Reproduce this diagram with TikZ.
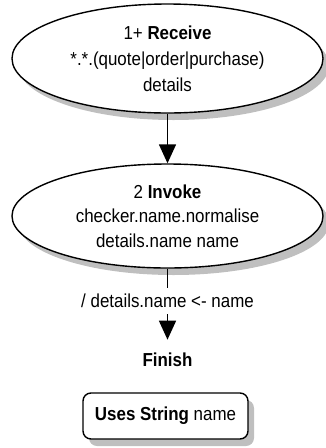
\documentclass[tikz,border=0pt]{standalone}
\usepackage{fontspec}
\setmainfont[FakeStretch=0.9]{Liberation Sans}
\usetikzlibrary{shapes.geometric,shadows,arrows.meta}

\tikzset{
  x=1pt, y=1pt,
  flowline/.style={line width=1.5pt, -{Triangle[length=19pt,width=17pt]}},
  softshadow/.style={drop shadow={shadow xshift=6pt, shadow yshift=-7pt,
      fill=black!25, opacity=1}},
  statenode/.style={ellipse, draw, line width=1.4pt, fill=white, softshadow,
      inner sep=0pt, minimum width=311pt, align=center},
  labeltext/.style={fill=white, inner xsep=2pt, inner ysep=6pt,
      font=\fontsize{18.8}{22}\selectfont},
  usesbox/.style={draw, line width=1.4pt, rounded corners=8pt, fill=white,
      softshadow, minimum width=165pt, minimum height=46pt, inner sep=0pt,
      font=\fontsize{18.8}{22}\selectfont},
}

\begin{document}
\begin{tikzpicture}
  \useasboundingbox (0,0) rectangle (326,-448);

  % receiving state
  \node[statenode, minimum height=109pt,
        font=\fontsize{18.8}{26}\selectfont] (recv) at (167.5,-58.5)
    {1+ \textbf{Receive}\\*.*.(quote|order|purchase)\\details};

  % invoking state
  \node[statenode, minimum height=104pt,
        font=\fontsize{18.8}{24.5}\selectfont] (invk) at (167.5,-216)
    {2 \textbf{Invoke}\\checker.name.normalise\\details.name name};

  % final state
  \node[font=\fontsize{18.8}{22}\selectfont\bfseries, inner sep=12.5pt,
        anchor=base] (fin) at (167.5,-366) {Finish};

  % declared variables
  \node[usesbox] (uses) at (165.5,-416) {\textbf{Uses String} name};

  % transitions
  \draw[flowline] (recv.south) -- (invk.north);
  \draw[flowline] (invk.south) --
    node[labeltext, pos=0.45] (assign) {/ details.name <- name} (fin.north);
\end{tikzpicture}
\end{document}
